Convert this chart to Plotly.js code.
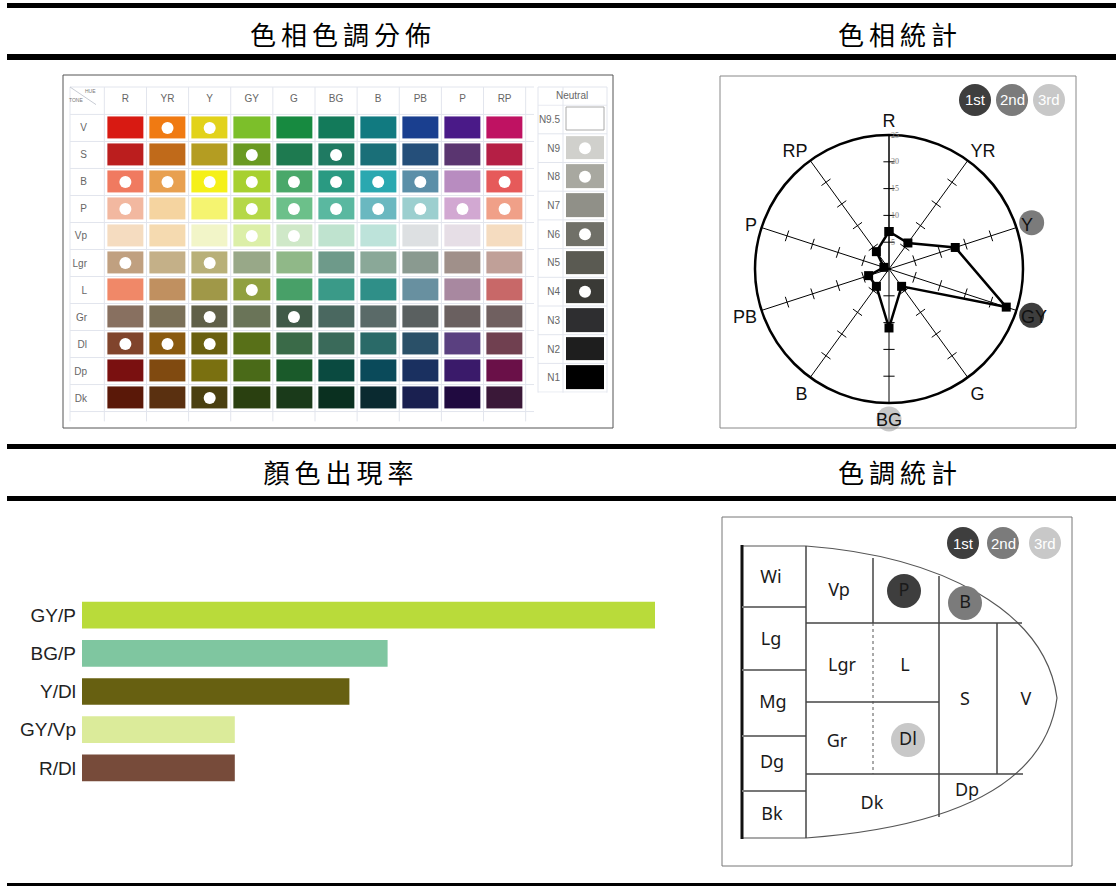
<!DOCTYPE html>
<html>
<head>
<meta charset="utf-8">
<script src="https://cdn.plot.ly/plotly-3.0.1.min.js"></script>
<style>
  html, body { margin: 0; padding: 0; background: #fff; }
  #chart { width: 1116px; height: 886px; }
</style>
</head>
<body>
<div id="chart"></div>
<script>
// Data

const hues = ["R", "YR", "Y", "GY", "G", "BG", "B", "PB", "P", "RP"];
const tones = ["V", "S", "B", "P", "Vp", "Lgr", "L", "Gr", "Dl", "Dp", "Dk"];

// one row per tone, one colour per hue
const cellColors = [
  ["#d81a12", "#f07a12", "#e2d21a", "#7cbf2a", "#178a40", "#137a5a", "#117a80", "#1a3f8f", "#4a1a88", "#bf1262"],
  ["#bb1e1e", "#c06a1a", "#b49d22", "#6a9a22", "#1e7a50", "#1f7a62", "#1a6f78", "#254f7a", "#5a3570", "#b51f45"],
  ["#f07a60", "#e8a050", "#f5f018", "#a7d030", "#4aa86a", "#2a9a82", "#2aa8b0", "#5b8fa8", "#b88cc0", "#e65a5a"],
  ["#f2b8a0", "#f5d4a0", "#f5f470", "#b5d848", "#6cc08a", "#5ab8a0", "#6ab8c0", "#9ccfcf", "#d2a8d2", "#f0a088"],
  ["#f5dcc0", "#f5dab0", "#f2f5c8", "#dcefa8", "#cfe8c8", "#bfe3cf", "#bde3da", "#dde0e2", "#e6dee6", "#f5dcc0"],
  ["#c0a080", "#c4b088", "#b8b078", "#98a888", "#90b888", "#6e9a8a", "#8aa898", "#8a9a90", "#a0908a", "#c0a098"],
  ["#f08868", "#c09060", "#a09848", "#90a040", "#48a068", "#3a9a88", "#2f8f88", "#6890a0", "#a888a0", "#c86868"],
  ["#887060", "#7a7058", "#606048", "#6a7458", "#405a48", "#4a6860", "#5a6a68", "#5a6060", "#6a6060", "#706060"],
  ["#80442c", "#8a5a10", "#6a6010", "#587018", "#3a6a48", "#3a6a5a", "#2a6a68", "#2a5068", "#5a4080", "#704050"],
  ["#7a1010", "#804a10", "#7a7010", "#4a6a18", "#1a5a2a", "#0a4a40", "#0a4a5a", "#1a3060", "#3a1a6a", "#6a1048"],
  ["#5a1808", "#5a3010", "#4a4010", "#2a4010", "#1a3a1a", "#0a3020", "#0a2a30", "#1a2050", "#200a40", "#3a1838"],
];

// cells marked with a dot
const dotHues = ["YR", "Y", "GY", "BG", "R", "YR", "Y", "GY", "G", "BG", "B", "PB", "RP",
  "R", "GY", "G", "BG", "B", "PB", "P", "RP", "GY", "G", "R", "Y", "GY", "Y", "G", "R", "YR", "Y", "Y"];
const dotTones = ["V", "V", "S", "S", "B", "B", "B", "B", "B", "B", "B", "B", "B",
  "P", "P", "P", "P", "P", "P", "P", "P", "Vp", "Vp", "Lgr", "Lgr", "L", "Gr", "Gr", "Dl", "Dl", "Dl", "Dk"];

const neutralLevels = ["N9.5", "N9", "N8", "N7", "N6", "N5", "N4", "N3", "N2", "N1"];
const neutralColors = ["#ffffff", "#d0d0cc", "#a8a8a0", "#909088", "#707068", "#5a5a52", "#3a3a36", "#2e2e30", "#1e1e1e", "#000000"];
const neutralDots = ["N9", "N8", "N6", "N4"];

// hue statistics
const hueCounts = [7, 6, 13, 23, 4, 11, 4, 4, 1, 4];
const hueRanks = ["GY", "Y", "BG"];

// colour frequency
const barLabels = ["GY/P", "BG/P", "Y/Dl", "GY/Vp", "R/Dl"];
const barValues = [15, 8, 7, 4, 4];
const barColors = ["#b9db3a", "#7fc6a0", "#676011", "#dbeb9a", "#774b3a"];

// tone statistics
const toneNames = ["Wi", "Lg", "Mg", "Dg", "Bk", "Vp", "P", "B", "Lgr", "L", "S", "V", "Gr", "Dl", "Dk", "Dp"];
const toneRanks = ["P", "B", "Dl"];

const headers = ["色相色調分佈", "色相統計", "顏色出現率", "色調統計"];
const rankNames = ["1st", "2nd", "3rd"];

// Layout helpers

const W = 1116;
const H = 886;
const px = (x) => x / W;
const py = (y) => 1 - y / H;

const rankColors = ["#3e3e3e", "#7b7b7b", "#c8c8c8"];
const labelFont = "Liberation Sans Narrow, Liberation Sans, Arial, sans-serif";

// label spots in the tone diagram (diagram pixel units)
const toneLabelPos = {
  Wi: [771, 578], Lg: [771, 640], Mg: [773, 703], Dg: [772, 763], Bk: [772, 815],
  Vp: [839, 591], P: [904, 591], B: [965, 603],
  Lgr: [842, 666], L: [905, 666], S: [965, 700], V: [1026, 700],
  Gr: [837, 742], Dl: [908, 740], Dk: [872, 804], Dp: [967, 791],
};

const shapes = [];
const annotations = [];

// text placed by its centre, in page pixels
const addText = (text, x, y, font) => {
  annotations.push({
    text: text, xref: "paper", yref: "paper", x: px(x), y: py(y),
    xanchor: "center", yanchor: "middle", showarrow: false, font: font,
  });
};

// Horizontal rules and section titles
const rules = [[3, 8], [54, 60], [444, 449], [496, 501], [883, 887]];
rules.forEach(([y0, y1]) => {
  shapes.push({
    type: "rect", xref: "paper", yref: "paper",
    x0: px(7), x1: 1, y0: py(y1), y1: py(y0),
    fillcolor: "#000", line: { width: 0 },
  });
});

const headerPos = [[343, 33], [900, 33], [341, 472], [900, 472]];
headers.forEach((t, i) => {
  addText(t, headerPos[i][0], headerPos[i][1], { family: "Noto Sans CJK TC", size: 26, color: "#000" });
});

// Colour chart (hue x tone)

const flatColors = cellColors.flat();
const nCells = flatColors.length;
const gridScale = flatColors.map((c, i) => [i / (nCells - 1), c]);
const gridZ = tones.map((t, r) => hues.map((h, c) => r * hues.length + c));

const neutralScale = neutralColors.map((c, i) => [i / (neutralColors.length - 1), c]);
const neutralZ = neutralLevels.map((n, i) => [i]);

// picture frame
shapes.push({
  type: "rect", xref: "paper", yref: "paper",
  x0: px(63), x1: px(613), y0: py(428), y1: py(75),
  line: { color: "#555", width: 1 },
});

// table lines
const tableLine = { color: "#e2e5ed", width: 1 };
for (let i = 0; i <= hues.length; i++) {
  shapes.push({ type: "line", xref: "x", yref: "paper", x0: i - 0.5, x1: i - 0.5, y0: py(421.4), y1: py(87), line: tableLine });
}
for (let j = 0; j <= tones.length; j++) {
  shapes.push({ type: "line", xref: "paper", yref: "y", x0: px(70), x1: px(534), y0: j - 0.5, y1: j - 0.5, line: tableLine });
}
shapes.push({ type: "line", xref: "paper", yref: "paper", x0: px(70), x1: px(70), y0: py(421.4), y1: py(87), line: tableLine });
shapes.push({ type: "line", xref: "paper", yref: "paper", x0: px(70), x1: px(534), y0: py(87), y1: py(87), line: tableLine });
shapes.push({ type: "line", xref: "paper", yref: "paper", x0: px(70), x1: px(96), y0: py(87), y1: py(104.6), line: { color: "#c8ccd4", width: 1 } });

// neutral table lines
for (let i = 0; i <= neutralLevels.length; i++) {
  shapes.push({ type: "line", xref: "paper", yref: "y2", x0: px(538), x1: px(607), y0: i - 0.5, y1: i - 0.5, line: tableLine });
}
[538, 563, 607].forEach((x) => {
  shapes.push({ type: "line", xref: "paper", yref: "paper", x0: px(x), x1: px(x), y0: py(392.6), y1: py(87), line: tableLine });
});
shapes.push({ type: "line", xref: "paper", yref: "paper", x0: px(538), x1: px(607), y0: py(87), y1: py(87), line: tableLine });
// white N9.5 patch outline
shapes.push({ type: "rect", xref: "paper", yref: "paper", x0: px(566), x1: px(604), y0: py(130), y1: py(107), line: { color: "#aaa", width: 1 } });

addText("Neutral", 572, 96, { family: labelFont, size: 10, color: "#666" });
addText("HUE", 90, 91, { family: labelFont, size: 5, color: "#777" });
addText("TONE", 76, 100, { family: labelFont, size: 5, color: "#777" });

const traces = [];

traces.push({
  type: "heatmap", x: hues, y: tones, z: gridZ,
  colorscale: gridScale, zmin: 0, zmax: nCells - 1, showscale: false,
  xgap: 6, ygap: 5, hoverinfo: "skip", xaxis: "x", yaxis: "y",
});
traces.push({
  type: "scatter", mode: "markers", x: dotHues, y: dotTones,
  marker: { color: "#fff", size: 12 }, hoverinfo: "skip", xaxis: "x", yaxis: "y",
});
traces.push({
  type: "heatmap", x: ["Neutral"], y: neutralLevels, z: neutralZ,
  colorscale: neutralScale, zmin: 0, zmax: neutralLevels.length - 1, showscale: false,
  xgap: 6, ygap: 5, hoverinfo: "skip", xaxis: "x2", yaxis: "y2",
});
traces.push({
  type: "scatter", mode: "markers", x: neutralDots.map(() => "Neutral"), y: neutralDots,
  marker: { color: "#fff", size: 12 }, hoverinfo: "skip", xaxis: "x2", yaxis: "y2",
});

// Hue statistics (radar)

shapes.push({
  type: "rect", xref: "paper", yref: "paper",
  x0: px(720), x1: px(1076), y0: py(428), y1: py(76),
  line: { color: "#888", width: 1 },
});

// tick marks across each spoke
const tickR = [];
const tickTheta = [];
const tickAngle = [];
hues.forEach((h, i) => {
  [5, 10, 15, 20].forEach((r) => {
    tickR.push(r);
    tickTheta.push(h);
    tickAngle.push(i * 36);
  });
});
traces.push({
  type: "scatterpolar", mode: "markers", r: tickR, theta: tickTheta,
  marker: { symbol: "line-ew", size: 8, angle: tickAngle, line: { color: "#000", width: 1 } },
  hoverinfo: "skip", subplot: "polar",
});
traces.push({
  type: "scatterpolar", mode: "lines+markers",
  r: [...hueCounts, hueCounts[0]], theta: [...hues, hues[0]],
  line: { color: "#000", width: 2.5 },
  marker: { symbol: "square", size: 9, color: "#000" },
  hoverinfo: "skip", subplot: "polar",
});

// rank badges behind the hue labels
const radarCenter = [889, 269];
hueRanks.forEach((h, k) => {
  const a = (hues.indexOf(h) * 36 * Math.PI) / 180;
  const cx = radarCenter[0] + 150 * Math.sin(a);
  const cy = radarCenter[1] - 150 * Math.cos(a);
  const rr = 12.5;
  shapes.push({
    type: "circle", xref: "paper", yref: "paper", layer: "below",
    x0: px(cx - rr), x1: px(cx + rr), y0: py(cy + rr), y1: py(cy - rr),
    fillcolor: rankColors[k], line: { width: 0 },
  });
});

// 1st / 2nd / 3rd keys
const addKey = (xs, y) => {
  rankNames.forEach((t, k) => {
    shapes.push({
      type: "circle", xref: "paper", yref: "paper", layer: "below",
      x0: px(xs[k] - 16), x1: px(xs[k] + 16), y0: py(y + 16), y1: py(y - 16),
      fillcolor: rankColors[k], line: { width: 0 },
    });
    addText(t, xs[k], y, { family: "Liberation Sans", size: 15, color: "#fff" });
  });
};
addKey([975, 1012, 1049], 100);
addKey([963, 1003, 1045], 543);

// Colour frequency (bars)

traces.push({
  type: "bar", orientation: "h", x: barValues, y: barLabels,
  marker: { color: barColors }, hoverinfo: "skip", xaxis: "x4", yaxis: "y4",
});

// Tone statistics (diagram)

shapes.push({
  type: "rect", xref: "paper", yref: "paper",
  x0: px(722), x1: px(1072), y0: py(866), y1: py(517),
  line: { color: "#777", width: 1 },
});
const dLine = { color: "#444", width: 1.5 };
const dShape = (s) => Object.assign({ xref: "x3", yref: "y3", line: dLine, layer: "below" }, s);
shapes.push(dShape({
  type: "path",
  path: "M 742 546 L 806 546 C 940 556 1045 610 1057 698 C 1045 790 940 828 806 838 L 742 838",
  line: { color: "#555", width: 1.2 },
}));
shapes.push(dShape({ type: "line", x0: 742, x1: 742, y0: 545, y1: 839, line: { color: "#111", width: 3 } }));
[607, 670, 736, 791].forEach((y) => {
  shapes.push(dShape({ type: "line", x0: 742, x1: 806, y0: y, y1: y, line: { color: "#777", width: 2 } }));
});
shapes.push(dShape({ type: "line", x0: 806, x1: 806, y0: 546, y1: 838 }));
shapes.push(dShape({ type: "line", x0: 806, x1: 1022, y0: 623, y1: 623 }));
shapes.push(dShape({ type: "line", x0: 806, x1: 939, y0: 702, y1: 702 }));
shapes.push(dShape({ type: "line", x0: 806, x1: 1023, y0: 774, y1: 774 }));
shapes.push(dShape({ type: "line", x0: 873, x1: 873, y0: 558, y1: 623 }));
shapes.push(dShape({ type: "line", x0: 873, x1: 873, y0: 623, y1: 774, line: { color: "#555", width: 1, dash: "dot" } }));
shapes.push(dShape({ type: "line", x0: 939, x1: 939, y0: 576, y1: 817 }));
shapes.push(dShape({ type: "line", x0: 997, x1: 997, y0: 623, y1: 774 }));

traces.push({
  type: "scatter", mode: "markers",
  x: toneRanks.map((t) => toneLabelPos[t][0]), y: toneRanks.map((t) => toneLabelPos[t][1]),
  marker: { color: rankColors, size: 34 }, hoverinfo: "skip", xaxis: "x3", yaxis: "y3",
});
traces.push({
  type: "scatter", mode: "text",
  x: toneNames.map((t) => toneLabelPos[t][0]), y: toneNames.map((t) => toneLabelPos[t][1]),
  text: toneNames, textposition: "middle center",
  textfont: { family: "Noto Sans", size: 18, color: "#1a1a1a" },
  hoverinfo: "skip", xaxis: "x3", yaxis: "y3",
});

// Axes

const hidden = { showgrid: false, zeroline: false, showline: false, showticklabels: false, ticks: "", fixedrange: true };
const smallTicks = { family: labelFont, size: 10, color: "#666" };

const layout = {
  width: W,
  height: H,
  margin: { l: 0, r: 0, t: 0, b: 0 },
  paper_bgcolor: "#fff",
  plot_bgcolor: "rgba(0,0,0,0)",
  showlegend: false,
  bargap: 0.3,
  xaxis: {
    domain: [px(96), px(534)], anchor: "y", type: "category", categoryarray: hues,
    side: "top", showgrid: false, zeroline: false, ticks: "", tickfont: smallTicks, fixedrange: true,
  },
  yaxis: {
    domain: [py(421.4), py(104.6)], anchor: "x", type: "category", categoryarray: tones,
    autorange: "reversed", showgrid: false, zeroline: false, ticks: "", tickfont: smallTicks,
    ticklabelstandoff: 8, fixedrange: true,
  },
  xaxis2: Object.assign({}, hidden, { domain: [px(563), px(607)], anchor: "y2", type: "category" }),
  yaxis2: {
    domain: [py(392.6), py(104.6)], anchor: "x2", type: "category", categoryarray: neutralLevels,
    autorange: "reversed", showgrid: false, zeroline: false, ticks: "", tickfont: smallTicks,
    ticklabelstandoff: 2, fixedrange: true,
  },
  xaxis3: Object.assign({}, hidden, { domain: [px(722), px(1072)], anchor: "y3", range: [722, 1072] }),
  yaxis3: Object.assign({}, hidden, { domain: [py(866), py(517)], anchor: "x3", range: [866, 517] }),
  xaxis4: Object.assign({}, hidden, { domain: [px(82), px(655)], anchor: "y4", range: [0, 15] }),
  yaxis4: {
    domain: [py(787), py(596)], anchor: "x4", type: "category", categoryarray: barLabels,
    autorange: "reversed", showgrid: false, zeroline: false, showline: false, ticks: "",
    tickfont: { family: labelFont, size: 19, color: "#222" }, ticklabelstandoff: 5, fixedrange: true,
  },
  polar: {
    domain: { x: [px(755), px(1023)], y: [py(403), py(135)] },
    bgcolor: "rgba(0,0,0,0)",
    angularaxis: {
      type: "category", categoryarray: hues, rotation: 90, direction: "clockwise",
      showline: true, linecolor: "#000", linewidth: 2.5,
      showgrid: true, gridcolor: "#000", gridwidth: 1, ticks: "",
      tickfont: { family: "Liberation Sans", size: 18, color: "#111" },
    },
    radialaxis: {
      range: [0, 25], angle: 90, side: "clockwise", tickangle: 90,
      showline: true, linecolor: "#000", linewidth: 1, showgrid: false, ticks: "",
      tickvals: [5, 10, 15, 20, 25],
      tickfont: { family: "Liberation Serif", size: 8, color: "#777" },
    },
  },
  shapes: shapes,
  annotations: annotations,
};

// Render

Plotly.newPlot("chart", traces, layout, { displayModeBar: false, staticPlot: true }).then(() => {
  // wider character spacing on the section titles
  document.querySelectorAll(".annotation-text").forEach((el) => {
    if (headers.includes(el.textContent)) el.style.letterSpacing = "5px";
  });
});
</script>
</body>
</html>
